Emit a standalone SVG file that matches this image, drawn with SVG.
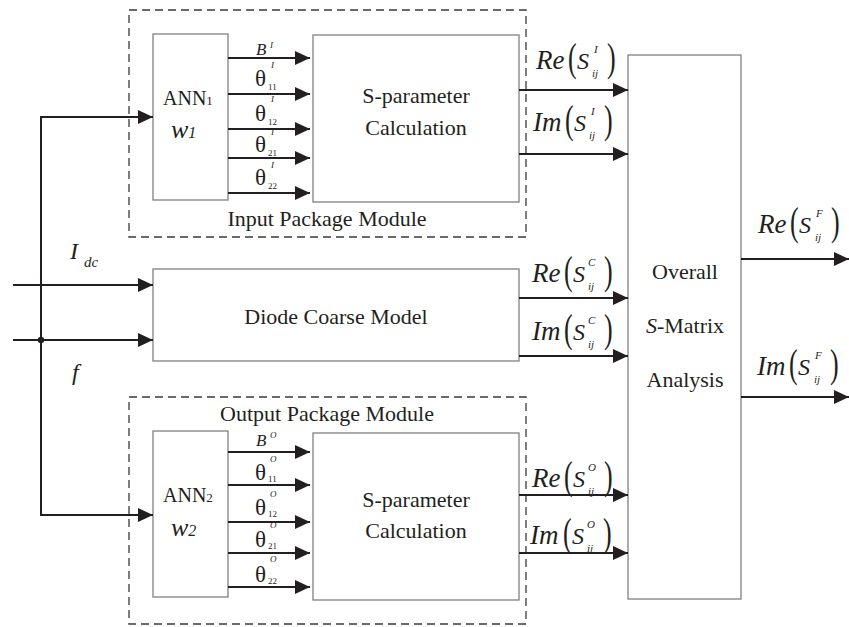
<svg xmlns="http://www.w3.org/2000/svg" width="849" height="627" viewBox="0 0 849 627">
<style>
text{font-family:"Liberation Serif","Times New Roman",serif;fill:#231f20}
.box{fill:#fff;stroke:#808080;stroke-width:1.3}
.dash{fill:none;stroke:#3a3a3a;stroke-width:1.3;stroke-dasharray:8,5}
.ln{fill:none;stroke:#231f20;stroke-width:2;marker-end:url(#ah)}
.t22{font-size:22px}
.it{font-style:italic}
.m{font-size:27px;font-style:italic}
.s{font-size:24px;font-style:italic}
.par{font-size:26px}
.sup{font-size:11px;font-style:italic}
.th{font-size:23px}
.tsub{font-size:9px}
.tsup{font-size:9px;font-style:italic}
.bb{font-size:17px;font-style:italic}
</style>
<defs>
<marker id="ah" markerUnits="userSpaceOnUse" markerWidth="16" markerHeight="14" refX="15" refY="7" orient="auto">
<path d="M0,0 L15,7 L0,14 Z" fill="#231f20"/>
</marker>
</defs>

<!-- Input package module -->
<g id="input-module">
<rect class="dash" x="129" y="10" width="397" height="227"/>
<text class="t22" x="327" y="226" text-anchor="middle">Input Package Module</text>
</g>
<g id="ann1">
<rect class="box" x="153" y="34" width="75" height="166"/>
<text x="163" y="105" font-size="20">ANN<tspan font-size="13">1</tspan></text>
<text x="171" y="138" class="it" font-size="26">w<tspan font-size="16">1</tspan></text>
</g>
<g id="sparam1">
<rect class="box" x="313" y="35" width="206" height="167"/>
<text class="t22" x="416" y="103" text-anchor="middle">S-parameter</text>
<text class="t22" x="416" y="135" text-anchor="middle">Calculation</text>
</g>

<!-- Diode coarse model -->
<g id="diode">
<rect class="box" x="153" y="269" width="366" height="92"/>
<text class="t22" x="336" y="324" text-anchor="middle">Diode Coarse Model</text>
</g>

<!-- Output package module -->
<g id="output-module">
<rect class="dash" x="129" y="397" width="397" height="227"/>
<text class="t22" x="327" y="421" text-anchor="middle">Output Package Module</text>
</g>
<g id="ann2">
<rect class="box" x="153" y="431" width="75" height="166"/>
<text x="163" y="502" font-size="20">ANN<tspan font-size="13">2</tspan></text>
<text x="171" y="536" class="it" font-size="26">w<tspan font-size="16">2</tspan></text>
</g>
<g id="sparam2">
<rect class="box" x="313" y="433" width="206" height="167"/>
<text class="t22" x="416" y="507" text-anchor="middle">S-parameter</text>
<text class="t22" x="416" y="538" text-anchor="middle">Calculation</text>
</g>

<!-- Overall -->
<g id="overall">
<rect class="box" x="628" y="55" width="113" height="544"/>
<text class="t22" x="685" y="279" text-anchor="middle">Overall</text>
<text class="t22" x="685" y="333" text-anchor="middle"><tspan font-style="italic">S</tspan>-Matrix</text>
<text class="t22" x="685" y="387" text-anchor="middle">Analysis</text>
</g>

<!-- Connectors -->
<g id="connectors">
<path class="ln" d="M41,340 L41,117 L153,117"/>
<path class="ln" d="M41,340 L41,515 L153,515"/>
<path class="ln" d="M13,285 L153,285"/>
<path class="ln" d="M13,340 L153,340"/>
<circle cx="41" cy="340" r="3.2" fill="#231f20"/>

<path class="ln" d="M228,58 L310,58"/>
<path class="ln" d="M228,94 L310,94"/>
<path class="ln" d="M228,129 L310,129"/>
<path class="ln" d="M228,158 L310,158"/>
<path class="ln" d="M228,193 L310,193"/>

<path class="ln" d="M228,452 L310,452"/>
<path class="ln" d="M228,485 L310,485"/>
<path class="ln" d="M228,522 L310,522"/>
<path class="ln" d="M228,553 L310,553"/>
<path class="ln" d="M228,587 L310,587"/>

<path class="ln" d="M519,90 L628,90"/>
<path class="ln" d="M519,154 L628,154"/>
<path class="ln" d="M519,298 L628,298"/>
<path class="ln" d="M519,356 L628,356"/>
<path class="ln" d="M519,495 L628,495"/>
<path class="ln" d="M519,553 L628,553"/>

<path class="ln" d="M741,259 L849,259"/>
<path class="ln" d="M741,397 L849,397"/>
</g>

<!-- Input labels -->
<g id="in-labels">
<text x="70" y="259" class="it" font-size="24">I</text>
<text x="84" y="267" class="it" font-size="15">dc</text>
<text x="72" y="380" class="it" font-size="24">f</text>
</g>

<!-- Input module theta labels -->
<g id="theta-in">
<text class="bb" x="256" y="55">B</text><text class="tsup" x="270" y="48">I</text>
<text class="th" x="255" y="86">θ</text><text class="tsup" x="271" y="68">I</text><text class="tsub" x="268" y="90">11</text>
<text class="th" x="255" y="121">θ</text><text class="tsup" x="271" y="102">I</text><text class="tsub" x="268" y="125">12</text>
<text class="th" x="255" y="152">θ</text><text class="tsup" x="271" y="135">I</text><text class="tsub" x="268" y="156">21</text>
<text class="th" x="255" y="185">θ</text><text class="tsup" x="271" y="168">I</text><text class="tsub" x="268" y="189">22</text>
</g>

<!-- Output module theta labels -->
<g id="theta-out">
<text class="bb" x="256" y="446">B</text><text class="tsup" x="270" y="438">O</text>
<text class="th" x="255" y="480">θ</text><text class="tsup" x="270" y="462">O</text><text class="tsub" x="268" y="482">11</text>
<text class="th" x="255" y="515">θ</text><text class="tsup" x="270" y="497">O</text><text class="tsub" x="268" y="517">12</text>
<text class="th" x="255" y="547">θ</text><text class="tsup" x="270" y="528">O</text><text class="tsub" x="268" y="549">21</text>
<text class="th" x="255" y="582">θ</text><text class="tsup" x="270" y="562">O</text><text class="tsub" x="268" y="584">22</text>
</g>

<!-- S-parameter labels -->
<g id="lbl-re-i" transform="translate(536,69)">
<text class="m" x="0" y="0">Re</text>
<text class="par" transform="translate(32,2) scale(1,1.5)">(</text>
<text class="s" x="41" y="0">S</text><text class="sup" x="58" y="-16">I</text><text class="sup" x="56" y="8">ij</text>
<text class="par" transform="translate(71,2) scale(1,1.5)">)</text>
</g>
<g id="lbl-im-i" transform="translate(533,131)">
<text class="m" x="0" y="0">Im</text>
<text class="par" transform="translate(32,2) scale(1,1.5)">(</text>
<text class="s" x="41" y="0">S</text><text class="sup" x="58" y="-16">I</text><text class="sup" x="56" y="8">ij</text>
<text class="par" transform="translate(71,2) scale(1,1.5)">)</text>
</g>
<g id="lbl-re-c" transform="translate(532,282)">
<text class="m" x="0" y="0">Re</text>
<text class="par" transform="translate(32,2) scale(1,1.5)">(</text>
<text class="s" x="41" y="0">S</text><text class="sup" x="56" y="-16">C</text><text class="sup" x="56" y="8">ij</text>
<text class="par" transform="translate(72,2) scale(1,1.5)">)</text>
</g>
<g id="lbl-im-c" transform="translate(532,340)">
<text class="m" x="0" y="0">Im</text>
<text class="par" transform="translate(32,2) scale(1,1.5)">(</text>
<text class="s" x="41" y="0">S</text><text class="sup" x="56" y="-16">C</text><text class="sup" x="56" y="8">ij</text>
<text class="par" transform="translate(72,2) scale(1,1.5)">)</text>
</g>
<g id="lbl-re-o" transform="translate(532,487)">
<text class="m" x="0" y="0">Re</text>
<text class="par" transform="translate(32,2) scale(1,1.5)">(</text>
<text class="s" x="41" y="0">S</text><text class="sup" x="56" y="-16">O</text><text class="sup" x="56" y="8">ij</text>
<text class="par" transform="translate(72,2) scale(1,1.5)">)</text>
</g>
<g id="lbl-im-o" transform="translate(530,544)">
<text class="m" x="0" y="0">Im</text>
<text class="par" transform="translate(33,2) scale(1,1.5)">(</text>
<text class="s" x="42" y="0">S</text><text class="sup" x="57" y="-16">O</text><text class="sup" x="57" y="8">ij</text>
<text class="par" transform="translate(73,2) scale(1,1.5)">)</text>
</g>
<g id="lbl-re-f" transform="translate(758,233)">
<text class="m" x="0" y="0">Re</text>
<text class="par" transform="translate(32,2) scale(1,1.5)">(</text>
<text class="s" x="41" y="0">S</text><text class="sup" x="58" y="-16">F</text><text class="sup" x="57" y="8">ij</text>
<text class="par" transform="translate(73,2) scale(1,1.5)">)</text>
</g>
<g id="lbl-im-f" transform="translate(757,375)">
<text class="m" x="0" y="0">Im</text>
<text class="par" transform="translate(32,2) scale(1,1.5)">(</text>
<text class="s" x="41" y="0">S</text><text class="sup" x="58" y="-16">F</text><text class="sup" x="57" y="8">ij</text>
<text class="par" transform="translate(73,2) scale(1,1.5)">)</text>
</g>
</svg>
